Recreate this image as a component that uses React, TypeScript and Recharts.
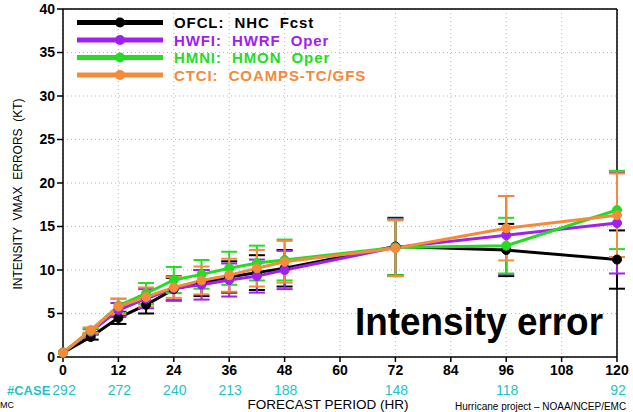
import React from 'react';
import { ComposedChart, Line, XAxis, YAxis, CartesianGrid, ReferenceLine, ErrorBar } from 'recharts';

// forecast hours with verification
const hours = [0, 6, 12, 18, 24, 30, 36, 42, 48, 72, 96, 120];

// mean intensity errors (kt)
const ofcl = [0.5, 2.3, 4.5, 6.0, 7.8, 8.5, 9.2, 9.7, 10.2, 12.7, 12.3, 11.2];
const hwfi = [0.5, 2.9, 5.4, 6.7, 7.9, 8.3, 8.85, 9.3, 10.0, 12.6, 14.0, 15.4];
const hmni = [0.5, 3.0, 5.9, 7.3, 8.85, 9.5, 10.2, 10.8, 11.15, 12.6, 12.8, 16.9];
const ctci = [0.5, 3.1, 5.8, 6.9, 8.0, 8.8, 9.4, 10.2, 10.95, 12.5, 14.8, 16.3];

// half-width of the error bars
const ofclErr = [0, 0.3, 0.7, 1.0, 1.3, 1.5, 1.8, 2.0, 2.1, 3.3, 3.0, 3.35];
const hwfiErr = [0, 0.3, 0.8, 1.1, 1.4, 1.7, 1.9, 1.9, 2.2, 3.3, 4.5, 5.8];
const hmniErr = [0, 0.3, 0.8, 1.2, 1.5, 1.65, 1.9, 2.0, 2.35, 3.2, 3.2, 4.5];
const ctciErr = [0, 0.3, 0.9, 1.1, 1.2, 1.6, 1.9, 2.1, 2.4, 3.2, 3.7, 4.8];

// number of cases under the axis
const caseHours = [0, 12, 24, 36, 48, 72, 96, 120];
const caseCounts = [292, 272, 240, 213, 188, 148, 118, 92];

const xTicks = [0, 12, 24, 36, 48, 60, 72, 84, 96, 108, 120];
const yTicks = [0, 5, 10, 15, 20, 25, 30, 35, 40];

const series = [
  { key: 'ofcl', label: 'OFCL:  NHC  Fcst', color: '#000000' },
  { key: 'hwfi', label: 'HWFI:  HWRF  Oper', color: '#a020f0' },
  { key: 'hmni', label: 'HMNI:  HMON  Oper', color: '#22dd22' },
  { key: 'ctci', label: 'CTCI:  COAMPS-TC/GFS', color: '#f58a3a' },
];

const data = hours.map((h, i) => ({
  hour: h,
  ofcl: ofcl[i], ofclErr: ofclErr[i],
  hwfi: hwfi[i], hwfiErr: hwfiErr[i],
  hmni: hmni[i], hmniErr: hmniErr[i],
  ctci: ctci[i], ctciErr: ctciErr[i],
}));

const FONT = '"Liberation Sans", Arial, sans-serif';
const CYAN = '#1fc3c8';

const HourTick = (props: any) => {
  const { x, y, payload } = props;
  const idx = caseHours.indexOf(payload.value);
  return (
    <g>
      <text x={x} y={y + 11} textAnchor="middle" fontFamily={FONT} fontSize={14} fontWeight="bold" fill="#000">
        {payload.value}
      </text>
      {idx >= 0 && (
        <text x={x + 1} y={y + 31} textAnchor="middle" fontFamily={FONT} fontSize={14} fill={CYAN}>
          {caseCounts[idx]}
        </text>
      )}
    </g>
  );
};

const App: React.FC = () => {
  return (
    <div style={{ position: 'absolute', left: 0, top: 0, width: 633, height: 412, background: '#fff' }}>
      <ComposedChart width={633} height={412} data={data} margin={{ top: 9, right: 16, bottom: 35, left: 0 }}>
        <CartesianGrid stroke="#b5b5b5" strokeDasharray="1 3" />
        <XAxis
          dataKey="hour"
          type="number"
          domain={[0, 120]}
          ticks={xTicks}
          height={20}
          stroke="#000"
          strokeWidth={1.5}
          tickSize={5}
          tick={<HourTick />}
          interval={0}
        />
        <YAxis
          type="number"
          domain={[0, 40]}
          ticks={yTicks}
          width={63}
          stroke="#000"
          strokeWidth={1.5}
          tickSize={6}
          interval={0}
          tick={{ fontFamily: FONT, fontSize: 14, fontWeight: 'bold', fill: '#000' }}
        />
        <ReferenceLine x={120} stroke="#000" strokeWidth={1.5} />
        <ReferenceLine y={40} stroke="#000" strokeWidth={1.5} />
        {series.map((s) => (
          <Line
            key={s.key}
            dataKey={s.key}
            type="linear"
            stroke={s.color}
            strokeWidth={3}
            dot={{ r: 4.5, fill: s.color, stroke: s.color, strokeWidth: 1 }}
            isAnimationActive={false}
          >
            <ErrorBar dataKey={s.key + 'Err'} direction="y" width={8} strokeWidth={2} stroke={s.color} />
          </Line>
        ))}
      </ComposedChart>

      <svg width={633} height={412} style={{ position: 'absolute', left: 0, top: 0, pointerEvents: 'none' }}>
        {series.map((s, i) => {
          const y = 22.5 + i * 17.5;
          return (
            <g key={s.key}>
              <line x1={77} x2={163} y1={y} y2={y} stroke={s.color} strokeWidth={5} />
              <circle cx={120} cy={y} r={5} fill={s.color} />
              <text x={174} y={y + 5.5} fontFamily={FONT} fontSize={15} fontWeight="bold" fill={s.color}
                letterSpacing={0.9} style={{ whiteSpace: 'pre' }}>
                {s.label}
              </text>
            </g>
          );
        })}
        <text x={19} y={194} transform="rotate(-90 19 194)" textAnchor="middle" dominantBaseline="middle"
          fontFamily={FONT} fontSize={12} fill="#000" style={{ whiteSpace: 'pre' }}>
          {'INTENSITY  VMAX  ERRORS  (KT)'}
        </text>
        <text x={7} y={395} fontFamily={FONT} fontSize={13} fontWeight="bold" fill={CYAN}>#CASE</text>
        <text x={328} y={409} textAnchor="middle" fontFamily={FONT} fontSize={13.5} fill="#000">
          FORECAST PERIOD (HR)
        </text>
        <text x={455} y={410} fontFamily={FONT} fontSize={10} fill="#000">
          Hurricane project – NOAA/NCEP/EMC
        </text>
        <text x={0} y={408} fontFamily={FONT} fontSize={9} fill="#000">MC</text>
        <text x={355} y={335} fontFamily={FONT} fontSize={39} fontWeight="bold" fill="#000"
          textLength={248} lengthAdjust="spacingAndGlyphs">
          Intensity error
        </text>
      </svg>
    </div>
  );
};

export default App;
